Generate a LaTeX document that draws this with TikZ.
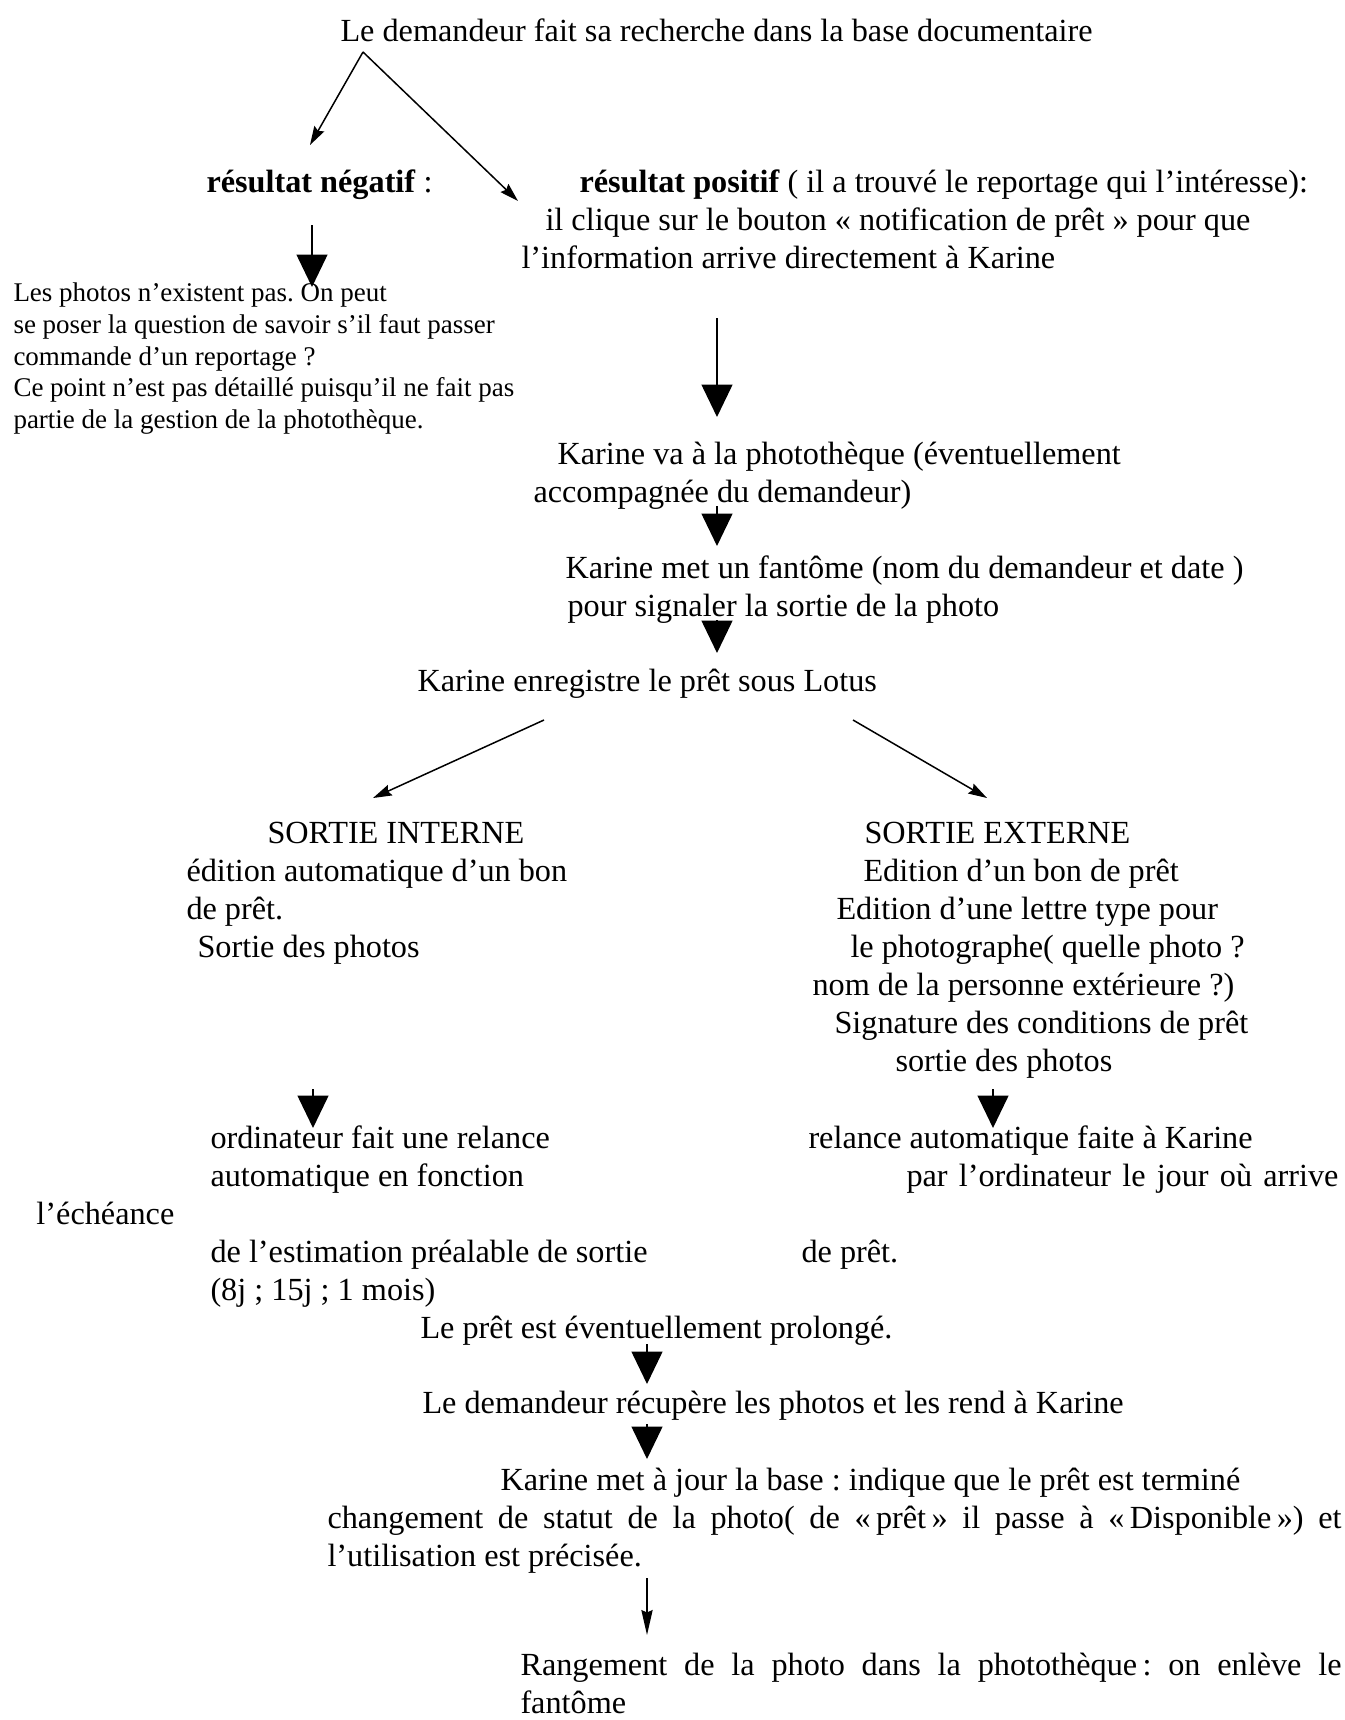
\documentclass[tikz,border=0pt]{standalone}
\usepackage{fontspec}
\setmainfont{Liberation Serif}
\frenchspacing
\usetikzlibrary{
    arrows.meta,
    positioning,
    calc
}
\tikzset{
  txt/.style = {
      inner sep=0pt,
      anchor=north west,
      align=left,
      font=\fontsize{12.9}{15.2}\selectfont
  },
  note/.style = {
      txt,
      font=\fontsize{10.8}{12.7}\selectfont
  },
  thin arrow/.style = {
      line width=0.6pt,
      -{Stealth[length=7.5pt,width=4.5pt,inset=1pt]}
  },
  long arrow/.style = {
      line width=0.6pt,
      -{Stealth[length=10pt,width=4.5pt,inset=1pt]}
  },
  big arrow/.style = {
      line width=0.6pt,
      -{Triangle[length=13pt,width=12.4pt]}
  }
}

\begin{document}
\begin{tikzpicture}[x=0.4pt,y=-0.4pt]
        \fill[white] (0,0) rectangle (1345,1720);
        \useasboundingbox (0,0) rectangle (1345,1720);
        % Search
        \node[txt] (search) at (340,14) {\strut Le demandeur fait sa recherche dans la base documentaire};
        \node[txt] (neg) at (206,165) {\strut\textbf{résultat négatif} :};
        \node[txt] (pos) at (521,165) {\strut\hspace*{23.2pt}\textbf{résultat positif} ( il a trouvé le reportage qui l’intéresse):\\
            \hspace*{9.6pt}il clique sur le bouton « notification de prêt » pour que\\
            l’information arrive directement à Karine};
        \node[note] (nophoto) at (13,279) {\strut Les photos n’existent pas. On peut\\
            se poser la question de savoir s’il faut passer\\
            commande d’un reportage ?\\
            Ce point n’est pas détaillé puisqu’il ne fait pas\\
            partie de la gestion de la photothèque.};
        % Loan
        \node[txt] (visit) at (533,437) {\strut\hspace*{9.6pt}Karine va à la photothèque (éventuellement\\
            accompagnée du demandeur)};
        \node[txt] (ghost) at (565,551) {\strut Karine met un fantôme (nom du demandeur et date )\\
            \hspace*{0.8pt}pour signaler la sortie de la photo};
        \node[txt] (lotus) at (417,664) {\strut Karine enregistre le prêt sous Lotus};
        \node[txt] (intern) at (186,816) {\strut\hspace*{32.4pt}SORTIE INTERNE\\
            édition automatique d’un bon\\
            de prêt.\\
            \hspace*{4.4pt}Sortie des photos};
        \node[txt] (extern) at (812,816) {\strut\hspace*{20.8pt}SORTIE EXTERNE\\
            \hspace*{20.4pt}Edition d’un bon de prêt\\
            \hspace*{9.6pt}Edition d’une lettre type pour\\
            \hspace*{15.2pt}le photographe( quelle photo ?\\
            nom de la personne extérieure ?)\\
            \hspace*{8.8pt}Signature des conditions de prêt\\
            \hspace*{33.2pt}sortie des photos};
        % Reminders
        \node[txt] (remindin) at (210,1121) {\strut ordinateur fait une relance\\
            automatique en fonction\\[15.2pt]
            de l’estimation préalable de sortie\\
            (8j ; 15j ; 1 mois)};
        \node[txt] (remindout) at (801,1121) {\strut\hspace*{2.8pt}relance automatique faite à Karine\\
            \hspace*{42pt}\makebox[172.8pt][s]{par l’ordinateur le jour où arrive}\\[15.2pt]
            de prêt.};
        \node[txt] (due) at (36,1197) {\strut l’échéance};
        % Return
        \node[txt] (extend) at (420,1311) {\strut Le prêt est éventuellement prolongé.};
        \node[txt] (giveback) at (422,1386) {\strut Le demandeur récupère les photos et les rend à Karine};
        \node[txt] (update) at (327,1463) {\strut\hspace*{69.2pt}Karine met à jour la base : indique que le prêt est terminé\\
            \makebox[405.6pt][s]{changement de statut de la photo( de «\,prêt\,» il passe à «\,Disponible\,») et}\\
            l’utilisation est précisée.};
        \node[txt] (store) at (520,1648) {\strut\makebox[328.4pt][s]{Rangement de la photo dans la photothèque\,: on enlève le}\\
            fantôme};
        % Arrow ends
        \coordinate (fork) at (363,52);
        \coordinate (negtip) at (310,145);
        \coordinate (postip) at (518,201);
        \coordinate (negfrom) at (312,225);
        \coordinate (nophototip) at (312,287);
        \coordinate (posfrom) at (717,318);
        \coordinate (visittip) at (717,417);
        \coordinate (visitfrom) at (717,506);
        \coordinate (ghosttip) at (717,546);
        \coordinate (ghostfrom) at (717,620);
        \coordinate (lotustip) at (717,653);
        \coordinate (lotusleft) at (544,720);
        \coordinate (interntip) at (373,798);
        \coordinate (lotusright) at (853,720);
        \coordinate (externtip) at (987,798);
        \coordinate (internfrom) at (313,1089);
        \coordinate (remindintip) at (313,1128);
        \coordinate (externfrom) at (993,1089);
        \coordinate (remindouttip) at (993,1128);
        \coordinate (extendfrom) at (647,1344);
        \coordinate (givebacktip) at (647,1384);
        \coordinate (givebackfrom) at (647,1424);
        \coordinate (updatetip) at (647,1459);
        \coordinate (updatefrom) at (647,1578);
        \coordinate (storetip) at (647,1635);
        % Arrows
        \draw[thin arrow] (fork) -- (negtip);
        \draw[thin arrow] (fork) -- (postip);
        \draw[big arrow] (negfrom) -- (nophototip);
        \draw[big arrow] (posfrom) -- (visittip);
        \draw[big arrow] (visitfrom) -- (ghosttip);
        \draw[big arrow] (ghostfrom) -- (lotustip);
        \draw[thin arrow] (lotusleft) -- (interntip);
        \draw[thin arrow] (lotusright) -- (externtip);
        \draw[big arrow] (internfrom) -- (remindintip);
        \draw[big arrow] (externfrom) -- (remindouttip);
        \draw[big arrow] (extendfrom) -- (givebacktip);
        \draw[big arrow] (givebackfrom) -- (updatetip);
        \draw[long arrow] (updatefrom) -- (storetip);
    \end{tikzpicture}
\end{document}
